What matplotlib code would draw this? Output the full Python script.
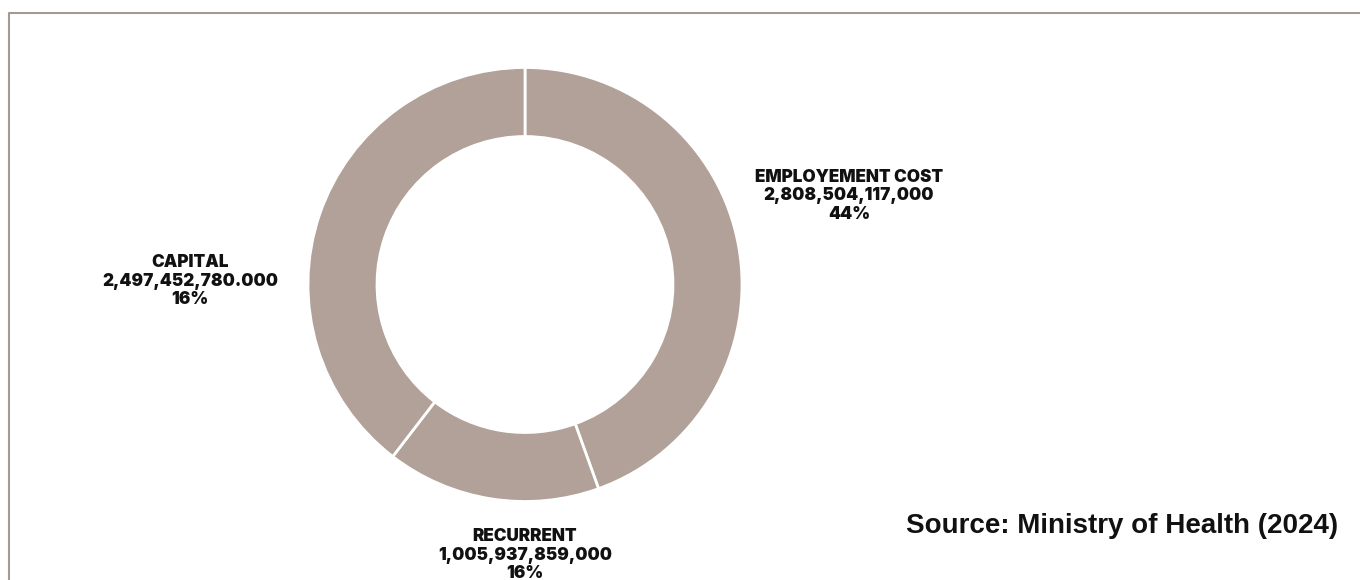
import matplotlib
matplotlib.use("Agg")
import matplotlib.pyplot as plt

# health budget split
categories = ["EMPLOYEMENT COST", "RECURRENT", "CAPITAL"]
amounts = [2808504117000, 1005937859000, 2497452780000]
amount_labels = ["2,808,504,117,000", "1,005,937,859,000", "2,497,452,780.000"]
pct_labels = ["44%", "16%", "16%"]

ring_color = "#b1a198"
frame_color = "#a39a92"

fig = plt.figure(figsize=(13.6, 5.8), dpi=100)
ax = fig.add_axes([0, 0, 1, 1])

# y runs downward here, so counterclock=True turns clockwise on screen
ax.pie(amounts, center=(525, 284.5), radius=217, startangle=-90, counterclock=True,
       colors=[ring_color] * 3,
       wedgeprops=dict(width=69, edgecolor="white", linewidth=2))
ax.set_xlim(0, 1360)
ax.set_ylim(580, 0)
ax.set_aspect("equal")
ax.axis("off")

# label spots around the ring
label_pos = [(849, 196), (525, 555), (190, 281)]
for name, amt, pct, (x, y) in zip(categories, amount_labels, pct_labels, label_pos):
    ax.text(x, y, f"{name}\n{amt}\n{pct}", ha="center", va="center",
            family=["Inter", "DejaVu Sans"], fontweight=900, fontsize=12.3,
            linespacing=1.1, color="#111111")

ax.text(1338, 526, "Source: Ministry of Health (2024)", ha="right", va="center",
        family="Liberation Sans", fontweight="bold", fontsize=20, color="#111111")

# thin frame along the top and left edge
ax.plot([9, 9, 1360], [580, 13, 13], color=frame_color, lw=1.5, clip_on=False)

fig.savefig("out.png", dpi=100)
